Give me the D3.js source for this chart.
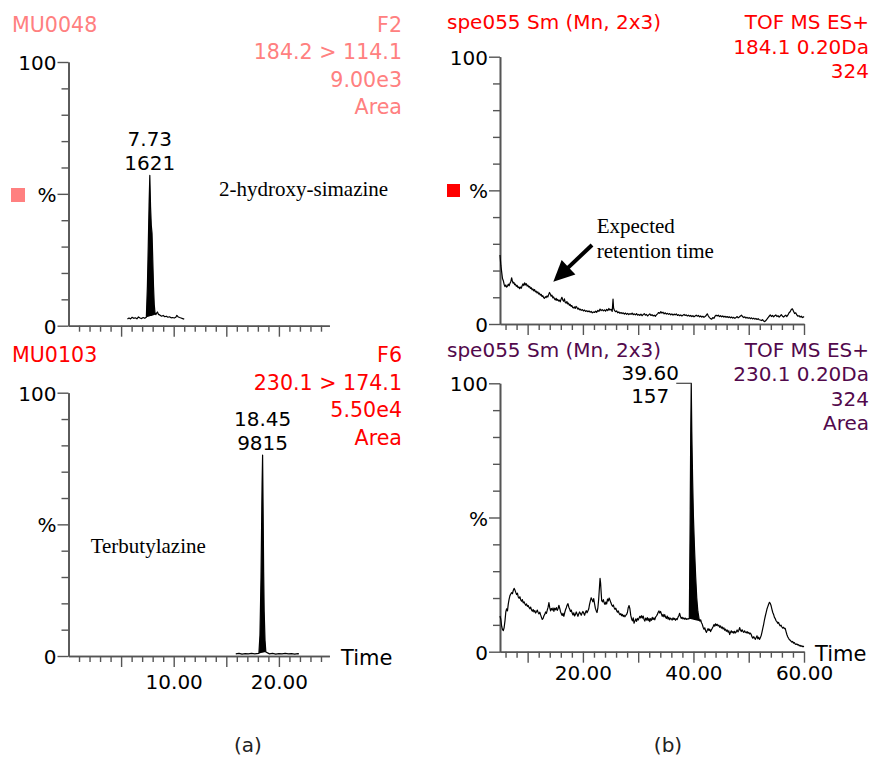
<!DOCTYPE html>
<html>
<head>
<meta charset="utf-8">
<script src="https://cdn.jsdelivr.net/npm/d3@7"></script>
<style>
  body { margin: 0; background: #fff; }
  svg { display: block; }
  text { font-family: "DejaVu Sans", "Liberation Sans", sans-serif; }
  .serif { font-family: "Liberation Serif", "Times New Roman", serif; }
</style>
</head>
<body>
<svg id="chart" width="874" height="757"></svg>
<script>
// ---- Chromatogram traces: [retention time (min), relative intensity (%)] ----

// MU0048, F2, MRM 184.2 > 114.1 (2-hydroxy-simazine)
const mrm184 = [
  [5.6,2.5],[5.75,2.9],[5.9,2.6],[6.05,3.2],[6.2,2.8],[6.35,3.0],[6.5,2.6],[6.65,3.3],
  [6.8,2.9],[6.95,2.7],[7.1,3.1],[7.25,2.8],[7.4,3.2],[7.5,15],[7.58,30],[7.66,46],
  [7.73,57],[7.8,45],[7.87,38],[7.94,35],[8.01,25],[8.08,15],[8.15,8],[8.22,5],
  [8.3,4.2],[8.38,4.8],[8.45,5.2],[8.55,4.3],[8.7,4.0],[8.85,3.6],[9.0,3.9],[9.15,3.4],
  [9.3,3.6],[9.45,3.2],[9.6,3.4],[9.75,3.0],[9.9,3.1],[10.05,2.9],[10.2,3.2],[10.3,3.9],
  [10.4,3.4],[10.55,3.1],[10.7,2.9],[10.85,2.7],[11.0,2.5]
];

// MU0103, F6, MRM 230.1 > 174.1 (terbutylazine)
const mrm230 = [
  [15.9,0.8],[16.2,1.0],[16.5,0.7],[16.8,0.9],[17.1,0.8],[17.4,1.0],[17.7,0.8],[18.1,1.0],
  [18.2,8],[18.3,30],[18.4,65],[18.45,76.3],[18.5,55],[18.55,32],[18.6,17],[18.68,6],
  [18.76,1.5],[19.1,0.8],[19.4,1.0],[19.7,0.7],[20.0,0.9],[20.3,0.8],[20.6,1.0],[20.9,0.8],
  [21.2,0.9],[21.5,0.7],[21.8,0.9],[21.9,0.8]
];

// spe055, TOF MS ES+, extracted m/z 184.1
const tof184 = [
  [5.0,25.8],[5.15,22.0],[5.3,19.5],[5.45,17.0],[5.6,16.2],[5.75,14.8],[5.9,14.0],[6.05,14.6],
  [6.2,13.8],[6.35,14.2],[6.5,14.9],[6.65,14.3],[6.8,15.2],[6.95,15.8],[7.1,17.3],[7.2,16.4],
  [7.35,15.3],[7.5,15.6],[7.65,14.7],[7.8,14.9],[7.95,14.1],[8.1,14.4],[8.25,13.6],[8.4,13.9],
  [8.55,13.2],[8.7,13.8],[8.85,13.4],[9.0,14.3],[9.15,15.0],[9.3,14.4],[9.45,15.4],[9.6,14.6],
  [9.75,15.1],[9.9,14.2],[10.05,14.5],[10.2,13.8],[10.35,14.1],[10.5,13.3],[10.65,13.6],[10.8,12.8],
  [10.95,13.1],[11.1,12.4],[11.25,12.9],[11.4,12.0],[11.55,12.3],[11.7,11.6],[11.85,12.0],[12.0,11.2],
  [12.15,11.5],[12.3,10.8],[12.45,11.1],[12.6,10.3],[12.75,10.6],[12.9,9.8],[13.05,9.6],[13.2,10.2],
  [13.35,9.9],[13.5,10.5],[13.65,10.1],[13.8,11.0],[13.95,11.8],[14.1,11.2],[14.25,10.4],[14.4,10.8],
  [14.55,9.8],[14.7,10.1],[14.85,9.4],[15.0,9.0],[15.15,9.6],[15.3,8.8],[15.45,9.2],[15.6,8.6],
  [15.75,8.9],[15.9,8.3],[16.05,9.3],[16.2,10.0],[16.35,9.0],[16.5,8.5],[16.65,9.4],[16.8,8.1],
  [16.95,7.8],[17.1,8.4],[17.25,7.5],[17.4,7.8],[17.55,7.0],[17.7,7.3],[17.85,6.6],[18.0,6.9],
  [18.15,6.2],[18.3,6.0],[18.45,6.4],[18.6,5.8],[18.75,6.6],[18.9,6.3],[19.05,5.6],[19.2,5.9],
  [19.35,5.3],[19.5,5.6],[19.7,5.1],[19.9,5.4],[20.1,4.9],[20.3,5.2],[20.5,4.7],[20.7,5.0],
  [20.9,4.6],[21.1,4.9],[21.3,4.4],[21.5,4.7],[21.7,4.2],[21.9,4.5],[22.1,4.3],[22.3,4.8],
  [22.5,4.4],[22.7,5.1],[22.9,4.7],[23.1,5.6],[23.3,5.0],[23.5,5.4],[23.7,4.9],[23.9,5.3],
  [24.1,4.8],[24.3,5.5],[24.5,5.0],[24.7,5.8],[24.9,5.2],[25.1,5.5],[25.3,4.7],[25.45,9.3],
  [25.55,6.0],[25.7,5.1],[25.9,4.6],[26.1,4.9],[26.3,4.2],[26.5,4.5],[26.7,4.0],[26.9,4.3],
  [27.1,3.9],[27.3,4.2],[27.5,3.7],[27.7,4.1],[27.9,3.6],[28.1,4.0],[28.3,3.5],[28.5,3.9],
  [28.7,3.6],[28.9,4.1],[29.1,3.5],[29.3,3.8],[29.5,3.4],[29.7,3.9],[29.9,3.3],[30.1,3.6],
  [30.3,3.2],[30.5,3.7],[30.7,3.1],[30.9,3.5],[31.1,3.9],[31.3,3.3],[31.5,3.6],[31.7,3.0],
  [31.9,3.4],[32.1,3.8],[32.3,3.2],[32.5,3.5],[32.7,3.0],[32.9,3.3],[33.1,2.9],[33.3,3.4],
  [33.5,3.8],[33.7,4.3],[33.9,4.0],[34.1,4.6],[34.3,4.1],[34.5,4.4],[34.7,3.8],[34.9,4.2],
  [35.1,3.7],[35.3,4.0],[35.5,3.6],[35.7,3.9],[35.9,3.4],[36.1,3.8],[36.3,3.3],[36.5,3.7],
  [36.7,3.4],[36.9,3.8],[37.1,3.2],[37.3,3.5],[37.5,3.1],[37.7,3.4],[37.9,3.0],[38.1,3.3],
  [38.3,3.6],[38.5,3.2],[38.7,3.4],[38.9,3.0],[39.1,3.3],[39.3,2.9],[39.5,3.2],[39.7,2.8],
  [39.9,3.1],[40.1,2.7],[40.3,3.0],[40.5,3.3],[40.7,2.9],[40.9,3.2],[41.1,2.7],[41.3,3.0],
  [41.5,2.6],[41.7,2.9],[41.9,2.5],[42.1,2.8],[42.3,3.2],[42.5,3.8],[42.7,3.0],[42.9,2.4],
  [43.1,2.0],[43.3,1.8],[43.5,2.4],[43.7,2.1],[43.9,2.9],[44.1,3.3],[44.3,3.0],[44.5,3.3],
  [44.7,2.8],[44.9,3.1],[45.1,2.7],[45.3,3.0],[45.5,2.6],[45.7,2.9],[45.9,2.5],[46.1,2.8],
  [46.3,2.4],[46.5,2.7],[46.7,2.3],[46.9,2.6],[47.1,2.2],[47.3,2.5],[47.5,2.1],[47.7,2.4],
  [47.9,2.8],[48.1,2.3],[48.3,2.6],[48.5,3.0],[48.7,3.3],[48.9,2.7],[49.1,2.4],[49.3,2.7],
  [49.5,2.2],[49.7,2.5],[49.9,2.1],[50.1,2.4],[50.3,2.0],[50.5,2.3],[50.7,1.9],[50.9,2.2],
  [51.1,1.8],[51.3,2.1],[51.5,1.7],[51.7,2.0],[51.9,1.6],[52.1,1.5],[52.3,1.3],[52.5,1.6],
  [52.7,1.1],[52.9,0.9],[53.1,1.3],[53.3,1.8],[53.5,2.4],[53.7,2.9],[53.9,3.4],[54.1,2.8],
  [54.3,3.2],[54.5,2.7],[54.7,3.1],[54.9,3.4],[55.1,2.8],[55.3,3.1],[55.5,2.6],[55.7,3.0],
  [55.9,3.5],[56.1,2.9],[56.3,2.6],[56.5,3.0],[56.7,3.3],[56.9,2.8],[57.1,3.4],[57.3,4.2],
  [57.5,4.6],[57.7,5.4],[57.9,5.7],[58.1,4.8],[58.3,3.9],[58.5,4.2],[58.7,3.4],[58.9,2.9],
  [59.1,3.1],[59.3,2.6],[59.5,2.9],[59.7,2.4],[59.9,2.7],[60.0,2.5]
];

// spe055, TOF MS ES+, extracted m/z 230.1
const tof230 = [
  [5.0,13.3],[5.15,12.0],[5.3,9.5],[5.45,8.2],[5.6,7.9],[5.75,9.0],[5.9,11.5],[6.05,14.8],
  [6.2,16.0],[6.35,15.2],[6.5,17.8],[6.65,19.6],[6.8,20.9],[6.95,21.5],[7.1,22.0],[7.25,21.6],
  [7.4,22.8],[7.55,23.6],[7.7,23.0],[7.85,22.1],[8.0,21.3],[8.15,21.8],[8.3,20.4],[8.45,19.9],
  [8.6,20.5],[8.75,19.3],[8.9,18.8],[9.05,19.4],[9.2,18.2],[9.35,18.6],[9.5,17.9],[9.65,17.3],
  [9.8,17.8],[9.95,16.9],[10.1,17.2],[10.25,16.5],[10.4,16.0],[10.55,16.6],[10.7,15.6],[10.85,15.1],
  [11.0,15.7],[11.15,14.8],[11.3,15.3],[11.45,14.4],[11.6,14.9],[11.75,15.5],[11.9,14.6],[12.05,14.1],
  [12.2,14.7],[12.35,13.7],[12.5,12.8],[12.65,12.0],[12.8,12.4],[12.95,13.4],[13.1,13.9],[13.25,14.8],
  [13.4,14.3],[13.55,15.5],[13.7,16.6],[13.85,18.3],[14.0,16.4],[14.15,15.2],[14.3,16.1],[14.45,15.5],
  [14.6,16.3],[14.75,15.0],[14.9,16.2],[15.05,15.6],[15.2,16.4],[15.35,15.4],[15.5,16.0],[15.65,17.3],
  [15.8,16.2],[15.95,14.9],[16.1,14.1],[16.25,13.5],[16.4,14.3],[16.55,13.2],[16.7,14.5],[16.85,15.6],
  [17.0,16.4],[17.15,17.4],[17.3,17.9],[17.45,16.6],[17.6,15.9],[17.75,15.0],[17.9,15.5],[18.05,14.4],
  [18.2,13.7],[18.35,14.5],[18.5,13.3],[18.65,13.9],[18.8,14.8],[18.95,14.0],[19.1,13.2],[19.25,14.1],
  [19.4,14.8],[19.55,14.2],[19.7,13.6],[19.85,14.4],[20.0,15.0],[20.15,14.3],[20.3,13.6],[20.45,14.6],
  [20.6,15.3],[20.75,14.5],[20.9,15.2],[21.05,15.9],[21.2,17.6],[21.35,18.9],[21.5,20.1],[21.65,19.4],
  [21.8,18.6],[21.95,19.8],[22.1,17.9],[22.25,16.2],[22.4,15.3],[22.55,14.6],[22.7,16.2],[22.85,19.5],
  [23.0,24.2],[23.1,27.3],[23.2,25.6],[23.3,22.1],[23.4,19.0],[23.55,18.6],[23.7,19.4],[23.85,18.2],
  [24.0,17.6],[24.15,18.5],[24.3,17.8],[24.45,19.6],[24.6,18.9],[24.75,20.0],[24.9,19.2],[25.05,18.3],
  [25.2,17.5],[25.35,16.9],[25.5,17.4],[25.65,16.4],[25.8,15.8],[25.95,16.2],[26.1,15.3],[26.25,14.7],
  [26.4,15.2],[26.55,14.3],[26.7,13.8],[26.85,14.2],[27.0,13.4],[27.15,13.9],[27.3,13.1],[27.45,13.6],
  [27.6,13.0],[27.75,13.5],[27.9,13.9],[28.05,14.6],[28.2,16.4],[28.35,17.2],[28.5,16.0],[28.65,13.6],
  [28.8,12.3],[28.95,11.5],[29.1,12.6],[29.25,10.6],[29.4,11.4],[29.55,12.2],[29.7,11.3],[29.85,12.4],
  [30.0,11.8],[30.15,12.5],[30.3,13.2],[30.45,12.6],[30.6,13.4],[30.75,12.5],[30.9,13.3],[31.05,12.1],
  [31.2,11.4],[31.35,12.5],[31.5,11.8],[31.65,12.7],[31.8,11.6],[31.95,12.4],[32.1,11.2],[32.25,12.3],
  [32.4,11.7],[32.55,12.8],[32.7,12.0],[32.85,12.6],[33.0,11.9],[33.15,12.9],[33.3,13.3],[33.45,13.8],
  [33.6,14.6],[33.75,15.2],[33.9,14.4],[34.05,15.0],[34.2,14.1],[34.35,13.2],[34.5,13.9],[34.65,13.0],
  [34.8,13.8],[34.95,12.9],[35.1,12.4],[35.25,13.3],[35.4,12.1],[35.55,12.8],[35.7,11.9],[35.85,12.5],
  [36.0,12.2],[36.15,11.8],[36.3,12.6],[36.45,12.0],[36.6,12.4],[36.75,11.7],[36.9,12.3],[37.05,12.0],
  [37.2,12.8],[37.35,13.4],[37.5,14.3],[37.65,13.1],[37.8,12.4],[37.95,12.8],[38.1,12.2],[38.25,12.6],
  [38.4,12.1],[38.55,12.5],[38.7,12.0],[38.85,12.3],[39.0,12.1],[39.15,12.4],[39.25,12.3],[39.4,48],
  [39.5,80],[39.6,100],[39.7,82],[39.85,64],[40.0,50],[40.2,38],[40.4,28],[40.6,20],
  [40.8,15],[41.0,12.5],[41.15,11.4],[41.3,11.9],[41.45,10.8],[41.6,10.2],[41.75,9.1],[41.9,8.4],
  [42.05,8.9],[42.2,7.8],[42.35,7.2],[42.5,8.0],[42.65,8.6],[42.8,7.9],[42.95,8.4],[43.1,7.5],
  [43.25,8.2],[43.4,8.7],[43.55,9.3],[43.7,10.1],[43.85,9.5],[44.0,10.4],[44.15,9.8],[44.3,10.2],
  [44.45,9.6],[44.6,9.9],[44.75,9.1],[44.9,9.6],[45.05,8.8],[45.2,9.2],[45.35,8.5],[45.5,8.9],
  [45.65,8.0],[45.8,8.4],[45.95,7.6],[46.1,8.1],[46.25,7.3],[46.4,7.8],[46.55,6.4],[46.7,7.2],
  [46.85,7.8],[47.0,7.1],[47.15,7.5],[47.3,6.9],[47.45,7.6],[47.6,7.0],[47.75,7.4],[47.9,8.1],
  [48.05,7.4],[48.2,7.9],[48.35,9.0],[48.5,8.1],[48.65,7.5],[48.8,8.2],[48.95,7.6],[49.1,7.2],
  [49.25,7.8],[49.4,7.3],[49.55,7.0],[49.7,7.5],[49.85,6.9],[50.0,7.2],[50.15,6.6],[50.3,6.9],
  [50.45,6.4],[50.6,5.5],[50.75,5.0],[50.9,5.6],[51.05,5.1],[51.2,4.6],[51.35,5.3],[51.5,5.9],
  [51.65,4.8],[51.8,5.4],[51.95,4.6],[52.1,5.2],[52.25,6.0],[52.4,7.3],[52.55,8.8],[52.7,10.2],
  [52.85,11.9],[53.0,13.3],[53.15,14.6],[53.3,15.9],[53.45,16.8],[53.6,17.7],[53.75,18.4],[53.9,18.0],
  [54.05,17.1],[54.2,15.8],[54.35,14.6],[54.5,13.9],[54.65,12.8],[54.8,12.3],[54.95,11.5],[55.1,11.2],
  [55.25,10.6],[55.4,10.9],[55.55,10.1],[55.7,9.6],[55.85,9.9],[56.0,9.2],[56.15,8.8],[56.3,9.1],
  [56.45,8.6],[56.6,8.7],[56.75,7.5],[56.9,6.4],[57.05,5.6],[57.2,5.0],[57.35,4.5],[57.5,4.3],
  [57.65,3.9],[57.8,3.6],[57.95,3.8],[58.1,3.2],[58.25,3.4],[58.4,2.9],[58.55,2.7],[58.7,2.9],
  [58.85,2.5],[59.0,2.6],[59.15,2.2],[59.3,2.4],[59.45,2.0],[59.6,2.2],[59.75,1.9],[59.9,2.0],
  [60.0,1.9]
];

// Integrated peaks: integration window, retention time, apex height, area
const peak184 = { start: 7.4, end: 8.3, rt: "7.73", apex: 57, area: "1621" };
const peak230 = { start: 18.1, end: 18.76, rt: "18.45", apex: 76.3, area: "9815" };
const peakTof230 = { start: 39.25, end: 41.15, rt: "39.60", apex: 100, area: "157" };

// Header texts
const headA = { left: "MU0048", right: ["F2", "184.2 > 114.1", "9.00e3", "Area"] };
const headC = { left: "MU0103", right: ["F6", "230.1 > 174.1", "5.50e4", "Area"] };
const headB = { left: "spe055 Sm (Mn, 2x3)", right: ["TOF MS ES+", "184.1 0.20Da", "324"] };
const headD = { left: "spe055 Sm (Mn, 2x3)", right: ["TOF MS ES+", "230.1 0.20Da", "324", "Area"] };

// Axis tick labels
const leftTimeLabels = [10, 20];
const rightTimeLabels = [20, 40, 60];

// ---- Drawing ----
const svg = d3.select("#chart");
const SALMON = "#ff8080", RED = "#ff0000", PURPLE = "#52094c", AXIS = "#555";

const panels = [
  { key: "a", head: headA, color: SALMON, trace: mrm184, peak: peak184,
    xd: [0, 24.8], xr: [68.5, 329.4], yr: [325.7, 62],
    minor: d3.range(1, 25, 1), major: [5, 10, 15, 20], labels: [],
    headLeftX: 12, headRightX: 402, headY: 31.7, headStep: 27.5, headSize: 20.6,
    legend: [11, 188, 14] },
  { key: "b", head: headB, color: RED, trace: tof184, peak: null,
    xd: [5, 60], xr: [500, 804], yr: [324, 56.7],
    minor: d3.range(6, 60, 2), major: [10, 20, 30, 40, 50, 60], labels: [],
    headLeftX: 447, headRightX: 869, headY: 29.3, headStep: 24.5, headSize: 20,
    legend: [447, 184, 13] },
  { key: "c", head: headC, color: RED, trace: mrm230, peak: peak230,
    xd: [0, 24.8], xr: [68.5, 329.4], yr: [656, 392.7],
    minor: d3.range(1, 25, 1), major: [5, 10, 15, 20], labels: leftTimeLabels,
    headLeftX: 12, headRightX: 402, headY: 362, headStep: 27.6, headSize: 20.6,
    legend: null, timeX: 341, labelPad: 8 },
  { key: "d", head: headD, color: PURPLE, trace: tof230, peak: peakTof230,
    xd: [5, 60], xr: [500, 804], yr: [651.7, 383.3],
    minor: d3.range(6, 60, 2), major: [10, 20, 30, 40, 50, 60], labels: rightTimeLabels,
    headLeftX: 447, headRightX: 869, headY: 356.7, headStep: 24.5, headSize: 20,
    legend: null, timeX: 815, labelPad: 3 }
];

panels.forEach(p => {
  const g = svg.append("g").attr("class", "panel-" + p.key);
  const x = d3.scaleLinear().domain(p.xd).range(p.xr);
  const y = d3.scaleLinear().domain([0, 100]).range(p.yr);

  // header
  g.append("text").attr("x", p.headLeftX).attr("y", p.headY)
    .attr("font-size", p.headSize).attr("fill", p.color).text(p.head.left);
  p.head.right.forEach((t, i) => {
    g.append("text").attr("x", p.headRightX).attr("y", p.headY + i * p.headStep)
      .attr("text-anchor", "end").attr("font-size", p.headSize).attr("fill", p.color).text(t);
  });

  // legend swatch
  if (p.legend) {
    g.append("rect").attr("x", p.legend[0]).attr("y", p.legend[1])
      .attr("width", p.legend[2]).attr("height", p.legend[2]).attr("fill", p.color);
  }

  const x0 = p.xr[0];
  const yAxisMinor = d3.axisLeft(y).tickValues(d3.range(10, 100, 10).filter(v => v !== 50))
    .tickSize(7).tickSizeOuter(0).tickFormat("");
  const yAxisMajor = d3.axisLeft(y).tickValues([0, 50, 100]).tickSize(11).tickSizeOuter(0)
    .tickPadding(1).tickFormat(v => v === 50 ? "%" : String(v));
  const yg1 = g.append("g").attr("transform", `translate(${x0},0)`).call(yAxisMinor);
  const yg2 = g.append("g").attr("transform", `translate(${x0},0)`).call(yAxisMajor);
  yg2.selectAll("text").attr("font-size", 20).attr("fill", "#000")
    .attr("font-family", "DejaVu Sans, sans-serif").attr("dy", "0.38em");

  const xAxisMinor = d3.axisBottom(x).tickValues(p.minor.filter(v => !p.major.includes(v)))
    .tickSize(6).tickSizeOuter(0).tickFormat("");
  const xAxisMajor = d3.axisBottom(x).tickValues(p.major).tickSize(11).tickSizeOuter(0)
    .tickPadding(p.labelPad || 3)
    .tickFormat(v => p.labels.includes(v) ? d3.format(".2f")(v) : "");
  const xg1 = g.append("g").attr("transform", `translate(0,${p.yr[0]})`).call(xAxisMinor);
  const xg2 = g.append("g").attr("transform", `translate(0,${p.yr[0]})`).call(xAxisMajor);
  xg2.selectAll("text").attr("font-size", 20).attr("fill", "#000")
    .attr("font-family", "DejaVu Sans, sans-serif");

  [yg1, yg2, xg1, xg2].forEach(a => {
    a.selectAll("path.domain").attr("stroke", AXIS).attr("stroke-width", 1.6);
    a.selectAll(".tick line").attr("stroke", AXIS).attr("stroke-width", 1.4);
  });

  if (p.timeX) {
    g.append("text").attr("x", p.timeX).attr("y", p.yr[0] + 9)
      .attr("font-size", 21).attr("fill", "#000").text("Time");
  }

  // integrated peak fill (between trace and straight baseline across the window)
  if (p.peak) {
    const pk = p.peak;
    const seg = p.trace.filter(d => d[0] >= pk.start && d[0] <= pk.end);
    const a = seg[0], b = seg[seg.length - 1];
    const base = t => a[1] + (t - a[0]) / (b[0] - a[0]) * (b[1] - a[1]);
    g.append("path").datum(seg)
      .attr("d", d3.area().x(d => x(d[0])).y0(d => y(base(d[0]))).y1(d => y(d[1])))
      .attr("fill", "#000");
  }

  // trace
  g.append("path").datum(p.trace)
    .attr("d", d3.line().x(d => x(d[0])).y(d => y(d[1])))
    .attr("fill", "none").attr("stroke", "#000").attr("stroke-width", 1.2)
    .attr("stroke-linejoin", "round");

  // peak labels
  if (p.peak) {
    const pk = p.peak;
    const ax = x(+pk.rt), ay = y(pk.apex);
    if (p.key === "d") {
      const cx = ax - 41;
      g.append("text").attr("x", cx).attr("y", ay - 3).attr("text-anchor", "middle")
        .attr("font-size", 20).text(pk.rt);
      g.append("text").attr("x", cx).attr("y", ay + 19.5).attr("text-anchor", "middle")
        .attr("font-size", 20).text(pk.area);
      g.append("line").attr("x1", ax - 15).attr("x2", ax).attr("y1", ay).attr("y2", ay)
        .attr("stroke", "#444").attr("stroke-width", 1.2);
    } else {
      g.append("text").attr("x", ax).attr("y", ay - 29.5).attr("text-anchor", "middle")
        .attr("font-size", 20).text(pk.rt);
      g.append("text").attr("x", ax).attr("y", ay - 5).attr("text-anchor", "middle")
        .attr("font-size", 20).text(pk.area);
    }
  }
});

// compound annotations
svg.append("text").attr("class", "serif").attr("x", 219).attr("y", 195.7)
  .attr("font-size", 21).text("2-hydroxy-simazine");
svg.append("text").attr("class", "serif").attr("x", 90.7).attr("y", 553.3)
  .attr("font-size", 21).text("Terbutylazine");
svg.append("text").attr("class", "serif").attr("x", 596.7).attr("y", 233)
  .attr("font-size", 21).text("Expected");
svg.append("text").attr("class", "serif").attr("x", 596.7).attr("y", 258.3)
  .attr("font-size", 21).text("retention time");

// arrow toward the expected retention time
(function () {
  const from = [592, 245], tip = [553.3, 281.7];
  const dx = tip[0] - from[0], dy = tip[1] - from[1];
  const len = Math.hypot(dx, dy), ux = dx / len, uy = dy / len;
  const hl = 21, hw = 10;
  const bx = tip[0] - ux * hl, by = tip[1] - uy * hl;
  svg.append("line").attr("x1", from[0]).attr("y1", from[1]).attr("x2", bx + ux * 2).attr("y2", by + uy * 2)
    .attr("stroke", "#000").attr("stroke-width", 4);
  svg.append("path")
    .attr("d", `M${tip[0]},${tip[1]}L${bx - uy * hw},${by + ux * hw}L${bx + uy * hw},${by - ux * hw}Z`)
    .attr("fill", "#000");
})();

// sub-figure captions
svg.append("text").attr("x", 248).attr("y", 752).attr("text-anchor", "middle")
  .attr("font-size", 20).attr("fill", "#222").text("(a)");
svg.append("text").attr("x", 668).attr("y", 752).attr("text-anchor", "middle")
  .attr("font-size", 20).attr("fill", "#222").text("(b)");
</script>
</body>
</html>
